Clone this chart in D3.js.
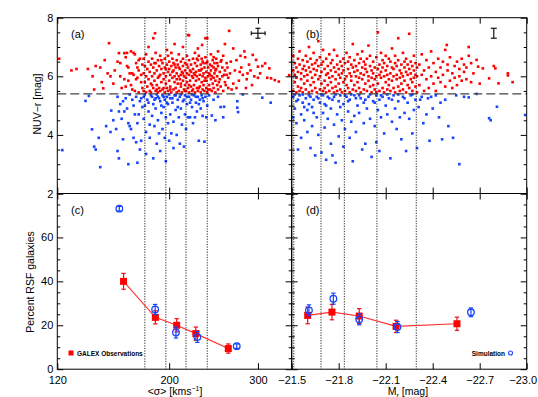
<!DOCTYPE html>
<html>
<head>
<meta charset="utf-8">
<script src="https://cdn.jsdelivr.net/npm/d3@7"></script>
<style>
  body { margin: 0; background: #fff; }
  svg { display: block; font-family: "Liberation Sans", Arial, sans-serif; }
</style>
</head>
<body>
<div id="chart"></div>
<script>
// ---------- data ----------
// panel (a): sigma [km/s], NUV-r [mag]
const redA = [
  [121,6.6],[128,6.2],[131,6.25],[138,6.25],[141,6.0],[143,6.35],[146,6.3],[147,5.8],[152,7.13],[151,6.1],
  [153,6.0],[155,5.75],[156,6.2],[158,6.5],[160,6.0],[161,5.6],[163,5.9],[164,6.65],[165,6.8],[166,6.3],
  [168,5.7],[169,6.1],[170,6.8],[171,5.5],[172,6.45],[173,5.95],[174,6.2],[174,5.45],[175,6.6],[176,5.8],
  [159,6.79],[163,6.79],[168,6.85],[171,6.75],[160,6.45],[165,6.35],[167,6.1],[170,6.05],[173,6.3],[174,6.55],
  [172,5.9],[166,5.85],[164,5.65],[169,5.55],[176,6.05],[177,6.4],[177,5.6],[149,6.55],[142,5.55],[148,5.59],
  [178,5.5],[178,6.1],[178,6.6],[179,5.8],[179,6.35],[180,5.45],[180,6.0],[180,6.75],[181,5.65],[181,6.25],
  [182,5.9],[182,6.5],[182,7.0],[183,5.5],[183,6.15],[184,5.75],[184,6.4],[184,5.45],[185,6.0],[185,6.6],
  [186,5.6],[186,6.3],[186,7.3],[187,5.85],[187,6.1],[188,5.5],[188,6.45],[188,6.8],[189,5.7],[189,6.2],
  [190,5.95],[190,6.55],[190,5.45],[191,5.6],[191,6.35],[192,6.05],[192,6.7],[192,5.5],[193,5.8],[193,6.25],
  [194,5.55],[194,6.45],[187.5,7.47],[195,6.1],[195,5.9],[196,5.45],[196,6.6],[196,6.3],[197,5.75],[197,6.0],
  [198,5.6],[198,6.4],[198,6.9],[199,6.15],[199,5.5],[200,5.85],[200,6.5],[200,6.25],[201,5.65],[201,6.05],
  [202,5.45],[202,6.35],[202,6.8],[203,5.95],[203,6.6],[204,5.55],[204,6.2],[204,6.45],[205,5.8],[205,6.0],[205,7.1],
  [206,5.6],[206,6.3],[207,6.1],[207,6.55],[207,5.45],[208,5.75],[208,6.4],[209,5.5],[209,6.0],[209,6.75],
  [210,5.9],[210,6.25],[211,5.65],[211,6.5],[211,6.05],[212,5.45],[212,6.15],[213,5.85],[213,6.6],[213,6.35],
  [214,5.55],[214,6.0],[215,6.2],[215,6.45],[215,5.7],[216,5.5],[216,5.95],[217,6.1],[217,6.7],[217,5.8],
  [218,5.6],[218,6.3],[219,5.45],[219,6.05],[219,6.55],[220,5.85],[220,6.2],[221,5.65],[221,6.4],[219,7.4],
  [222,5.5],[222,6.0],[223,5.95],[223,6.6],[223,6.25],[224,5.7],[224,6.1],[225,5.45],[225,6.45],[225,6.8],
  [226,5.85],[226,6.15],[227,5.6],[227,6.35],[227,6.0],[228,5.5],[228,6.55],[229,5.9],[229,6.2],[229,6.7],
  [230,5.65],[230,6.05],[231,5.45],[231,6.4],[232,5.8],[232,6.25],[232,6.6],[233,5.55],[233,6.0],[232.5,7.07],
  [234,6.1],[234,6.45],[234,5.7],[235,5.5],[235,6.3],[236,5.95],[236,6.65],[237,5.6],[237,6.15],[237,5.85],
  [238,5.45],[238,6.5],[239,6.0],[239,6.3],[238,7.3],[240,5.7],[240,6.1],[241,5.55],[241,6.4],[242,5.9],[242,6.2],[242,6.75],
  [243,5.5],[243,6.0],[244,5.75],[244,6.55],[245,5.6],[245,6.3],[245,5.95],[246,6.1],[246,6.45],[247,5.45],[247,5.85],
  [248,6.25],[248,6.6],[249,5.7],[249,6.0],[250,5.55],[250,6.35],[252,5.9],[252,6.15],[253,6.5],[253,5.65],
  [255,6.0],[255,6.3],[256,5.5],[256,6.7],[258,5.8],[258,6.2],[260,6.05],[260,6.45],[262,5.6],[262,5.95],
  [185,5.7],[187,6.45],[189,5.55],[191,6.0],[193,6.55],[195,5.6],[197,6.25],[199,6.7],[201,5.55],[203,6.15],
  [205,6.4],[207,5.9],[209,6.3],[211,5.75],[213,6.1],[215,5.5],[217,6.4],[219,5.7],[221,6.15],[223,5.55],
  [225,6.05],[227,6.6],[229,5.6],[231,6.2],[233,6.5],[235,5.85],[237,6.45],[239,5.55],[241,6.05],[243,6.35],
  [245,6.65],[247,6.2],[249,6.45],[251,5.8],[254,6.55],[257,6.05],[259,5.7],[261,6.3],[218,7.41],[263,7.55],
  [258,7.1],[236,7.3],[213,7.0],[228,6.95],[250,6.85],
  [265,6.5],[268,5.75],[270,6.2],[272,6.55],[275,5.85],[278,6.3],[280,6.05],[283,6.65],[285,5.9],[288,6.4],
  [290,6.2],[292,5.7],[293,6.73],[297.5,6.56],[300,6.33],[303,6.1],[306,6.35],[310,6.44],[313,5.95],[316,6.27],
  [318.5,5.93],[324,5.87],[330,5.82],[346,6.04],[268,6.95],[277,6.7],[282,6.85],[295,6.0],[300,5.95],[272,5.6],
  [286,6.1],[264,6.1],[266,5.55],[276,6.15],[284,5.6]
];
const blueA = [
  [122.8,3.48],[136.5,5.16],[138.6,5.33],[140.6,4.19],[142,3.6],[143,3.5],[145,3.9],[146,2.9],[150,4.3],[153,4.1],
  [157,4.2],[153.5,4.83],[155,4.5],[159,3.2],[158,3.45],[158,5.3],[160,5.05],[159,4.8],[161,4.55],[162,3.85],
  [164,5.25],[165,4.9],[166,4.4],[167,4.3],[166,3.0],[169,5.2],[170,5.0],[171,4.7],[173,4.4],[170,3.9],
  [172,3.75],[175,3.5],[176,3.8],[163,4.8],[168,4.2],[172,5.3],[174,4.7],[175,5.15],[177,4.95],[173,3.05],
  [178,5.3],[178,4.55],[179,5.0],[180,4.1],[180,3.35],[181,5.2],[182,4.8],[183,3.9],[183,4.35],[184,5.35],
  [185,4.65],[186,3.2],[186,5.05],[187,4.3],[188,5.25],[188,4.9],[189,3.7],[190,5.3],[190,4.5],[191,4.05],
  [192,5.15],[192,3.45],[193,4.75],[194,5.35],[194,4.2],[195,4.95],[196,5.2],[196,3.9],[197,4.6],[197,3.1],
  [198,5.3],[199,4.4],[199,5.05],[200,3.8],[201,5.25],[201,4.7],[202,4.05],[203,5.1],[204,4.45],[204,3.55],
  [205,5.35],[206,4.85],[207,4.0],[208,5.2],[209,4.6],[210,3.7],[210,5.3],[211,4.9],[212,4.35],[213,5.15],
  [214,3.6],[215,5.35],[215,4.7],[216,4.2],[217,5.05],[218,4.6],[219,5.3],[220,4.6],[221,5.2],[222,4.95],
  [223,4.4],[224,5.35],[225,4.6],[226,5.1],[227,4.8],[228,5.3],[229,3.8],[230,5.2],[231,4.9],[232,5.35],
  [233,4.65],[234,5.15],[235,3.77],[236,5.3],[237,4.6],[238,5.0],[240,5.35],[243,4.66],[245,5.2],[247,4.5],
  [250,5.3],[253,4.95],[256,4.6],[257,4.96],[273,5.15],[273,4.93],[274,4.78],[280,5.38],[306,5.27],[318,5.1],
  [176,5.25],[179,5.38],[182,5.1],[185,5.3],[187,5.2],[189,5.38],[191,5.25],[193,5.0],[195,5.3],[198,5.1],
  [200,5.38],[203,5.25],[206,5.35],[208,4.95],[211,5.38],[214,5.2],[217,5.3],[220,5.1],[222,5.38],[226,5.3],
  [229,5.05],[233,5.25],[167,5.38],[162,5.15]
];
// panel (b): M_r [mag], NUV-r [mag]
const redB = [
  [-21.51,5.5],[-21.51,6.2],[-21.51,6.7],[-21.52,5.8],[-21.52,6.05],[-21.52,6.45],[-21.53,5.45],[-21.53,6.3],[-21.53,5.95],
  [-21.54,6.6],[-21.54,5.65],[-21.54,6.15],[-21.55,5.5],[-21.55,6.4],[-21.55,6.85],[-21.56,5.9],[-21.56,6.1],[-21.56,5.6],
  [-21.57,6.25],[-21.57,6.55],[-21.57,5.45],[-21.58,5.75],[-21.58,6.0],[-21.58,6.35],[-21.59,5.55],[-21.59,6.7],[-21.59,6.2],
  [-21.60,6.05],[-21.60,5.85],[-21.60,6.5],[-21.61,5.45],[-21.61,6.3],[-21.61,7.0],[-21.62,5.7],[-21.62,6.15],[-21.62,6.6],
  [-21.63,6.4],[-21.63,5.5],[-21.63,5.95],[-21.64,5.8],[-21.64,6.25],[-21.64,6.8],[-21.65,5.6],[-21.65,6.05],[-21.65,6.45],
  [-21.66,6.55],[-21.66,5.45],[-21.66,6.2],[-21.67,5.9],[-21.67,6.35],[-21.67,7.2],[-21.68,5.55],[-21.68,6.0],[-21.68,6.65],
  [-21.69,6.15],[-21.69,5.75],[-21.69,6.4],[-21.70,5.5],[-21.70,6.5],[-21.70,6.9],[-21.71,5.85],[-21.71,6.25],[-21.71,5.6],
  [-21.72,6.05],[-21.72,6.6],[-21.72,5.45],[-21.73,5.7],[-21.73,6.35],[-21.73,6.1],[-21.74,5.5],[-21.74,5.95],[-21.74,6.75],
  [-21.75,6.2],[-21.75,6.45],[-21.75,5.8],[-21.76,5.6],[-21.76,6.0],[-21.76,6.55],[-21.77,5.45],[-21.77,6.3],[-21.77,6.9],
  [-21.78,5.9],[-21.78,6.15],[-21.78,5.65],[-21.79,6.4],[-21.79,5.5],[-21.79,6.7],[-21.80,5.75],[-21.80,6.05],[-21.80,6.25],
  [-21.81,5.55],[-21.81,6.5],[-21.81,5.95],[-21.82,6.1],[-21.82,6.35],[-21.82,5.45],[-21.83,5.8],[-21.83,6.6],[-21.83,6.2],
  [-21.84,5.5],[-21.84,5.9],[-21.84,6.45],[-21.85,6.0],[-21.85,6.8],[-21.85,5.7],[-21.86,5.6],[-21.86,6.25],[-21.86,6.5],
  [-21.87,5.45],[-21.87,6.1],[-21.87,6.65],[-21.88,5.85],[-21.88,6.4],[-21.88,6.0],[-21.89,6.3],[-21.89,5.55],[-21.89,7.1],
  [-21.90,5.7],[-21.90,6.15],[-21.90,6.55],[-21.91,5.5],[-21.91,6.0],[-21.91,6.35],[-21.92,6.2],[-21.92,5.8],[-21.92,6.75],
  [-21.93,5.6],[-21.93,6.45],[-21.93,5.95],[-21.94,5.45],[-21.94,6.1],[-21.94,6.6],[-21.95,5.9],[-21.95,6.3],[-21.95,6.85],
  [-21.96,5.55],[-21.96,6.05],[-21.96,6.5],[-21.97,6.25],[-21.97,5.75],[-21.97,6.4],[-21.98,5.5],[-21.98,6.6],[-21.98,6.15],
  [-21.99,5.85],[-21.99,6.0],[-21.99,7.05],[-22.00,5.65],[-22.00,6.35],[-22.00,6.7],[-22.01,5.45],[-22.01,6.2],[-22.01,5.95],
  [-22.02,6.1],[-22.02,6.5],[-22.02,5.7],[-22.03,5.55],[-22.03,5.9],[-22.03,6.3],[-22.04,6.0],[-22.04,6.65],[-22.04,5.45],
  [-22.05,5.75],[-22.05,6.25],[-22.05,7.5],[-22.06,5.5],[-22.06,6.4],[-22.06,6.05],[-22.07,5.95],[-22.07,6.15],[-22.07,6.8],
  [-22.08,5.6],[-22.08,6.55],[-22.08,6.3],[-22.09,5.45],[-22.09,6.0],[-22.09,6.45],[-22.10,5.8],[-22.10,6.2],[-22.10,6.7],
  [-22.11,6.05],[-22.11,5.55],[-22.11,6.35],[-22.12,5.7],[-22.12,6.6],[-22.12,5.9],[-22.13,5.5],[-22.13,6.1],[-22.13,6.5],
  [-22.14,6.3],[-22.14,5.85],[-22.14,6.95],[-22.15,5.6],[-22.15,6.25],[-22.15,6.0],[-22.16,5.45],[-22.16,6.45],[-22.16,6.7],
  [-22.17,5.9],[-22.17,6.05],[-22.17,6.35],[-22.18,5.65],[-22.18,6.55],[-22.18,7.3],[-22.19,5.5],[-22.19,6.2],[-22.19,5.95],
  [-22.20,6.1],[-22.20,6.4],[-22.20,5.75],[-22.21,5.55],[-22.21,6.0],[-22.21,6.8],[-22.22,5.85],[-22.22,6.3],[-22.22,6.5],
  [-22.23,5.45],[-22.23,6.15],[-22.23,6.6],[-22.24,6.05],[-22.24,5.7],[-22.24,6.4],[-22.25,5.6],[-22.25,6.25],[-22.25,7.45],
  [-22.26,5.9],[-22.26,6.5],[-22.26,6.1],[-22.27,5.5],[-22.27,6.35],[-22.27,5.8],[-22.28,6.2],[-22.28,6.7],[-22.28,5.95],
  [-22.29,5.65],[-22.29,6.05],[-22.29,6.45],[-22.30,5.45],[-22.30,6.3],[-22.30,6.0],
  [-22.315,5.7],[-22.315,6.4],[-22.33,6.05],[-22.33,6.75],[-22.345,5.5],[-22.345,6.2],[-22.36,5.9],[-22.36,6.55],
  [-22.375,6.3],[-22.375,5.6],[-22.39,6.0],[-22.39,6.85],[-22.405,5.75],[-22.405,6.45],[-22.42,6.15],[-22.42,5.5],
  [-22.435,6.6],[-22.435,5.95],[-22.45,5.8],[-22.45,6.3],[-22.465,6.5],[-22.465,6.05],[-22.48,5.65],[-22.48,6.9],
  [-22.49,7.07],[-22.495,6.2],[-22.495,6.4],[-22.51,5.85],[-22.51,6.65],[-22.525,6.1],[-22.525,5.6],[-22.54,6.35],
  [-22.54,5.95],[-22.555,5.7],[-22.555,6.5],[-22.57,6.25],[-22.57,6.0],[-22.585,5.85],[-22.585,6.6],[-22.60,6.4],
  [-22.60,6.15],[-22.615,5.9],[-22.615,6.3],[-22.63,7.0],[-22.63,6.7],[-22.645,6.45],[-22.645,5.8],
  [-22.68,6.56],[-22.69,6.33],[-22.72,6.27],[-22.76,5.93],[-22.79,6.35],[-22.80,6.27],[-22.82,5.76],[-22.88,6.1],
  [-22.88,6.03],[-22.91,5.8],[-22.66,6.1],[-22.70,5.75]
];
const blueB = [
  [-21.51,5.3],[-21.52,4.9],[-21.53,5.15],[-21.53,4.4],[-21.54,3.5],[-21.55,5.35],[-21.56,4.7],[-21.56,3.9],[-21.57,5.1],
  [-21.58,4.5],[-21.59,5.25],[-21.60,4.1],[-21.60,4.85],[-21.61,5.35],[-21.62,3.55],[-21.63,4.95],[-21.63,4.3],[-21.64,5.2],
  [-21.65,3.3],[-21.66,4.6],[-21.66,5.3],[-21.67,4.0],[-21.68,5.1],[-21.69,3.4],[-21.70,4.75],[-21.70,5.35],[-21.71,4.25],
  [-21.72,3.15],[-21.72,5.0],[-21.73,4.55],[-21.74,5.25],[-21.75,3.7],[-21.75,4.9],[-21.76,3.3],[-21.77,5.3],[-21.77,4.35],
  [-21.78,3.05],[-21.79,4.7],[-21.80,5.15],[-21.80,3.95],[-21.81,5.35],[-21.82,4.5],[-21.83,3.6],[-21.83,5.05],[-21.84,4.2],
  [-21.85,5.3],[-21.86,4.8],[-21.87,3.9],[-21.87,5.2],[-21.88,4.45],[-21.89,3.1],[-21.90,5.35],[-21.90,4.65],[-21.91,4.1],
  [-21.92,5.0],[-21.93,4.75],[-21.94,5.25],[-21.95,3.5],[-21.96,4.4],[-21.96,5.1],[-21.97,3.7],[-21.98,4.9],[-21.99,5.3],
  [-22.00,4.55],[-22.01,3.25],[-22.02,5.15],[-22.03,4.3],[-22.04,5.35],[-22.04,3.75],[-22.05,4.85],[-22.06,3.45],[-22.06,5.2],
  [-22.07,4.6],[-22.08,5.3],[-22.09,4.05],[-22.10,5.0],[-22.11,4.7],[-22.12,5.25],[-22.13,3.2],[-22.14,4.45],[-22.15,5.35],
  [-22.16,4.9],[-22.17,4.2],[-22.18,5.15],[-22.19,4.6],[-22.20,3.85],[-22.21,5.3],[-22.22,4.75],[-22.23,3.45],[-22.24,5.1],
  [-22.25,4.55],[-22.26,5.35],[-22.27,4.05],[-22.28,4.85],[-22.29,5.2],[-22.30,3.55],[-22.31,4.95],[-22.33,5.3],[-22.34,4.4],
  [-22.36,4.7],[-22.37,5.25],[-22.38,3.8],[-22.40,4.9],[-22.42,5.35],[-22.44,4.6],[-22.46,3.85],[-22.48,5.2],[-22.50,4.3],
  [-22.53,3.9],[-22.55,5.35],[-22.57,3.0],[-22.60,5.3],[-22.63,5.28],[-22.68,5.4],[-22.76,4.57],[-22.77,4.5],[-22.81,4.96],
  [-22.99,4.68],
  [-21.51,4.6],[-21.52,5.38],[-21.54,5.2],[-21.57,5.38],[-21.58,4.95],[-21.61,5.05],[-21.62,5.3],[-21.64,4.75],[-21.67,5.25],
  [-21.69,5.38],[-21.71,5.05],[-21.73,5.3],[-21.76,5.2],[-21.78,5.38],[-21.81,4.95],[-21.84,5.35],[-21.86,5.15],[-21.88,5.38],
  [-21.91,5.25],[-21.93,5.35],[-21.97,5.2],[-22.00,5.38],[-22.03,5.1],[-22.07,5.35],[-22.11,5.38],[-22.14,5.2],[-22.18,5.38],
  [-22.22,5.25],[-22.27,5.38],[-22.32,5.2],[-22.39,5.3],[-22.45,5.1]
];
// panels (c), (d): percent RSF galaxies
const cObsSigma = [162.4, 187.8, 207.0, 225.9, 262.0];
const cObs      = [40.0, 23.6, 20.0, 16.2, 9.4];
const cObsErr   = [3.6, 3.0, 3.0, 3.0, 2.1];
const cSimSigma = [159.3, 187.6, 206.3, 227.5, 272.3];
const cSim      = [73.1, 27.2, 16.7, 14.7, 10.5];
const cSimErr   = [1.0, 2.3, 2.5, 2.5, 1.0];

const dObsMag = [-21.602, -21.757, -21.931, -22.166, -22.555];
const dObs    = [24.5, 26.0, 24.2, 19.5, 20.7];
const dObsErr = [3.8, 3.5, 3.4, 2.8, 3.0];
const dSimMag = [-21.61, -21.766, -21.931, -22.175, -22.644];
const dSim    = [26.8, 32.1, 22.7, 19.2, 25.9];
const dSimErr = [2.5, 2.5, 2.5, 2.5, 2.0];

// bin edges (dotted lines) and colour cut
const sigmaBins = [179, 197, 216, 238];
const magBins = [-21.513, -21.687, -21.836, -22.044, -22.295];
const colourCut = 5.4;

// ticks
const sigmaTicks = [120, 200, 300];
const magTicks = [-21.5, -21.8, -22.1, -22.4, -22.7, -23.0];
const colourMajor = [2, 4, 6, 8];
const colourMinor = [2.5, 3, 3.5, 4.5, 5, 5.5, 6.5, 7, 7.5];
const pctMajor = [0, 20, 40, 60, 80];
const pctMinor = [5, 10, 15, 25, 30, 35, 45, 50, 55, 65, 70, 75];

// ---------- layout ----------
const width = 538, height = 397;
const L = 57.3, M = 291.7, R = 526.7, T = 17.7, MID = 193.5, B = 369.2;
const RED = "#ff0000", BLUE = "#1644ff";

const svg = d3.select("#chart").append("svg")
  .attr("width", width)
  .attr("height", height);

const xA = d3.scaleLog().domain([120, 350]).range([L, M]);
const xB = d3.scaleLinear().domain([-21.5, -23.0]).range([M, R]);
const yTop = d3.scaleLinear().domain([2, 8]).range([MID, T]);
const yBot = d3.scaleLinear().domain([0, 80]).range([B, MID]);

const defs = svg.append("defs");
function clip(id, x0, y0, x1, y1) {
  defs.append("clipPath").attr("id", id).append("rect")
    .attr("x", x0).attr("y", y0).attr("width", x1 - x0).attr("height", y1 - y0);
  return `url(#${id})`;
}

// =========================
// SCATTER (a), (b)
// =========================
function scatter(data, x, color, clipUrl) {
  svg.append("g").attr("clip-path", clipUrl)
    .selectAll("rect").data(data).enter().append("rect")
    .attr("x", d => x(d[0]) - 1.3)
    .attr("y", d => yTop(d[1]) - 1.3)
    .attr("width", 2.6).attr("height", 2.6)
    .attr("fill", color);
}
const clipA = clip("ca", L, T, M, MID);
const clipB = clip("cb", M, T, R, MID);
scatter(redA, xA, RED, clipA);
scatter(blueA, xA, BLUE, clipA);
scatter(redB, xB, RED, clipB);
scatter(blueB, xB, BLUE, clipB);

// dashed colour cut
svg.append("line")
  .attr("x1", L).attr("x2", R)
  .attr("y1", yTop(colourCut)).attr("y2", yTop(colourCut))
  .attr("stroke", "#444").attr("stroke-width", 1.2)
  .attr("stroke-dasharray", "9,4");

// dotted bin edges through both rows
svg.append("g").selectAll("line").data(sigmaBins).enter().append("line")
  .attr("x1", d => xA(d)).attr("x2", d => xA(d))
  .attr("y1", T).attr("y2", B)
  .attr("stroke", "#111").attr("stroke-width", 0.9)
  .attr("stroke-dasharray", "1.2,1.4");
svg.append("g").selectAll("line").data(magBins).enter().append("line")
  .attr("x1", d => xB(d)).attr("x2", d => xB(d))
  .attr("y1", T).attr("y2", B)
  .attr("stroke", "#111").attr("stroke-width", 0.9)
  .attr("stroke-dasharray", "1.2,1.4");

// representative error bars
const repA = { x: 300, y: 7.47, x0: 291, x1: 310, y0: 7.30, y1: 7.64 };
const repB = { x: -22.79, y0: 7.30, y1: 7.64 };
const rep = svg.append("g").attr("stroke", "#000").attr("stroke-width", 1.1);
rep.append("line").attr("x1", xA(repA.x0)).attr("x2", xA(repA.x1)).attr("y1", yTop(repA.y)).attr("y2", yTop(repA.y));
rep.append("line").attr("x1", xA(repA.x)).attr("x2", xA(repA.x)).attr("y1", yTop(repA.y0)).attr("y2", yTop(repA.y1));
[repA.x0, repA.x1].forEach(v => rep.append("line").attr("x1", xA(v)).attr("x2", xA(v)).attr("y1", yTop(repA.y) - 2).attr("y2", yTop(repA.y) + 2));
[repA.y0, repA.y1].forEach(v => rep.append("line").attr("x1", xA(repA.x) - 2.5).attr("x2", xA(repA.x) + 2.5).attr("y1", yTop(v)).attr("y2", yTop(v)));
rep.append("line").attr("x1", xB(repB.x)).attr("x2", xB(repB.x)).attr("y1", yTop(repB.y0)).attr("y2", yTop(repB.y1));
[repB.y0, repB.y1].forEach(v => rep.append("line").attr("x1", xB(repB.x) - 3).attr("x2", xB(repB.x) + 3).attr("y1", yTop(v)).attr("y2", yTop(v)));

// =========================
// RSF FRACTIONS (c), (d)
// =========================
function fractions(x, obsX, obs, obsErr, simX, sim, simErr) {
  const g = svg.append("g");
  const obsPts = obsX.map((v, i) => ({ x: v, y: obs[i], e: obsErr[i] }));
  const simPts = simX.map((v, i) => ({ x: v, y: sim[i], e: simErr[i] }));

  g.append("path").datum(obsPts)
    .attr("fill", "none").attr("stroke", "#ff3030").attr("stroke-width", 1.1)
    .attr("d", d3.line().x(d => x(d.x)).y(d => yBot(d.y)));

  function errorBars(pts, color, cap) {
    const eb = g.append("g").attr("stroke", color).attr("stroke-width", 1.2);
    pts.forEach(d => {
      const cx = x(d.x);
      eb.append("line").attr("x1", cx).attr("x2", cx).attr("y1", yBot(d.y - d.e)).attr("y2", yBot(d.y + d.e));
      [d.y - d.e, d.y + d.e].forEach(v => eb.append("line")
        .attr("x1", cx - cap).attr("x2", cx + cap).attr("y1", yBot(v)).attr("y2", yBot(v)));
    });
  }
  errorBars(obsPts, "#ee1010", 2.2);
  g.selectAll("rect.obs").data(obsPts).enter().append("rect")
    .attr("x", d => x(d.x) - 3.5).attr("y", d => yBot(d.y) - 3.5)
    .attr("width", 7).attr("height", 7).attr("fill", RED);

  errorBars(simPts, BLUE, 2.2);
  g.selectAll("circle.sim").data(simPts).enter().append("circle")
    .attr("cx", d => x(d.x)).attr("cy", d => yBot(d.y)).attr("r", 3.3)
    .attr("fill", "none").attr("stroke", BLUE).attr("stroke-width", 1.3);
}
fractions(xA, cObsSigma, cObs, cObsErr, cSimSigma, cSim, cSimErr);
fractions(xB, dObsMag, dObs, dObsErr, dSimMag, dSim, dSimErr);

// =========================
// FRAMES AND TICKS
// =========================
const none = () => "";
function frame(x, y, o) {
  const g = svg.append("g");
  const [x0, x1] = x.range();
  const [yb, yt] = y.range();
  g.append("g").attr("transform", `translate(0,${yb})`)
    .call(d3.axisBottom(x).tickValues(o.xTicks).tickSizeInner(-6).tickSizeOuter(0)
      .tickPadding(7).tickFormat(o.xFmt || none));
  g.append("g").attr("transform", `translate(0,${yt})`)
    .call(d3.axisTop(x).tickValues(o.xTicks).tickSizeInner(-6).tickSizeOuter(0).tickFormat(none));
  g.append("g").attr("transform", `translate(${x0},0)`)
    .call(d3.axisLeft(y).tickValues(o.yMajor).tickSizeInner(-6).tickSizeOuter(0)
      .tickPadding(4).tickFormat(o.yFmt || none));
  g.append("g").attr("transform", `translate(${x0},0)`)
    .call(d3.axisLeft(y).tickValues(o.yMinor).tickSizeInner(-3).tickSizeOuter(0).tickFormat(none));
  g.append("g").attr("transform", `translate(${x1},0)`)
    .call(d3.axisRight(y).tickValues(o.yMajor).tickSizeInner(-6).tickSizeOuter(0).tickFormat(none));
  g.append("g").attr("transform", `translate(${x1},0)`)
    .call(d3.axisRight(y).tickValues(o.yMinor).tickSizeInner(-3).tickSizeOuter(0).tickFormat(none));
  g.selectAll(".domain").remove();
  g.selectAll(".tick line").attr("stroke", "#000");
  g.selectAll(".tick text").attr("fill", "#000").attr("font-size", 11)
    .attr("font-family", "Liberation Sans, Arial, sans-serif");
  g.append("rect").attr("x", x0).attr("y", yt).attr("width", x1 - x0).attr("height", yb - yt)
    .attr("fill", "none").attr("stroke", "#000").attr("stroke-width", 1);
  return g;
}
frame(xA, yTop, { xTicks: sigmaTicks, yMajor: colourMajor, yMinor: colourMinor, yFmt: d3.format("d") });
frame(xB, yTop, { xTicks: magTicks, yMajor: colourMajor, yMinor: colourMinor });
frame(xA, yBot, { xTicks: sigmaTicks, yMajor: pctMajor, yMinor: pctMinor,
  xFmt: d3.format("d"), yFmt: d => d === 80 ? "" : d });
frame(xB, yBot, { xTicks: magTicks, yMajor: pctMajor, yMinor: pctMinor, xFmt: d3.format(".1f") })
  .selectAll(".tick text").filter(d => d === -23).attr("dx", -4);

// =========================
// LABELS
// =========================
const label = (x, y, s, size, anchor) => svg.append("text")
  .attr("x", x).attr("y", y).attr("font-size", size)
  .attr("text-anchor", anchor || "start").attr("fill", "#000").text(s);

label(71, 38, "(a)", 11);
label(306, 38, "(b)", 11);
label(71, 214, "(c)", 11);
label(306, 214, "(d)", 11);

svg.append("text")
  .attr("transform", "translate(41,104) rotate(-90)")
  .attr("text-anchor", "middle").attr("font-size", 10.5).text("NUV\u2212r [mag]");
svg.append("text")
  .attr("transform", "translate(34,282) rotate(-90)")
  .attr("text-anchor", "middle").attr("font-size", 10.5).text("Percent RSF galaxies");

const xt1 = svg.append("text").attr("x", 175).attr("y", 395)
  .attr("text-anchor", "middle").attr("font-size", 10.5);
xt1.append("tspan").text("<\u03c3> [kms");
xt1.append("tspan").attr("dy", -4).attr("font-size", 7).text("\u22121");
xt1.append("tspan").attr("dy", 4).text("]");

const xt2 = svg.append("text").attr("x", 408).attr("y", 395)
  .attr("text-anchor", "middle").attr("font-size", 10.5);
xt2.append("tspan").text("M");
xt2.append("tspan").attr("dy", 2.5).attr("font-size", 7).text("r");
xt2.append("tspan").attr("dy", -2.5).text(" [mag]");

// legends
svg.append("rect").attr("x", 68.5).attr("y", 350.5).attr("width", 5).attr("height", 5).attr("fill", RED);
label(77, 355.5, "GALEX Observations", 6.5).attr("font-weight", "bold");
label(505, 355.5, "Simulation", 6.5, "end").attr("font-weight", "bold");
svg.append("circle").attr("cx", 510.5).attr("cy", 353).attr("r", 2)
  .attr("fill", "none").attr("stroke", BLUE).attr("stroke-width", 1.1);
</script>
</body>
</html>
